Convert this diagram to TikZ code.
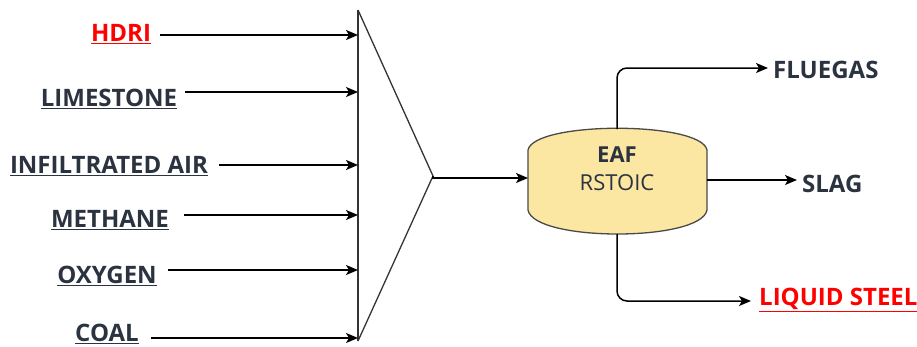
\documentclass[tikz,border=0pt]{standalone}
\usepackage{fontspec}
\setmainfont{Open Sans}
\usetikzlibrary{arrows.meta}
\definecolor{txt}{HTML}{2B3340}
\definecolor{redtxt}{HTML}{FF0000}
\definecolor{eaffill}{HTML}{FBE6A2}
\definecolor{eafline}{HTML}{4A4A4A}
\tikzset{
  lbl/.style={font=\fontsize{24}{28}\selectfont\bfseries, text=txt, inner sep=0pt},
  redlbl/.style={lbl, text=redtxt},
  flow/.style={line width=1.5pt, -{Stealth[length=12pt,width=10pt,inset=3pt]}},
  mixline/.style={line width=1.3pt, color=black!80},
}
\newcommand{\ul}[1]{\underline{#1}}
\begin{document}
\begin{tikzpicture}[x=1pt,y=-1pt]
\useasboundingbox (0,0) rectangle (917,346);
% labels
\node[redlbl] (hdri) at (121,34) {\ul{HDRI}};
\node[lbl] (lime) at (109,99) {\ul{LIMESTONE}};
\node[lbl] (air) at (109,166) {\ul{INFILTRATED AIR}};
\node[lbl] (meth) at (110,220) {\ul{METHANE}};
\node[lbl] (oxy) at (107,276) {\ul{OXYGEN}};
\node[lbl] (coal) at (107,334) {\ul{COAL}};
% mixer
\coordinate (mtop) at (358,10);
\coordinate (mbot) at (358,341);
\coordinate (apex) at (433,176);
\draw[mixline] (mtop) -- (mbot);
\draw[mixline] (mtop) -- (apex) -- (mbot);
% input end points on mixer
\coordinate (e1) at (358,35);
\coordinate (e2) at (358,92);
\coordinate (e3) at (358,165);
\coordinate (e4) at (358,215);
\coordinate (e5) at (358,270);
\coordinate (e6) at (358,338);
\coordinate (s1) at (160,35);
\coordinate (s2) at (185,92);
\coordinate (s3) at (219,165);
\coordinate (s4) at (184,215);
\coordinate (s5) at (168,270);
\coordinate (s6) at (151,338);
\draw[flow] (s1) -- (e1);
\draw[flow] (s2) -- (e2);
\draw[flow] (s3) -- (e3);
\draw[flow] (s4) -- (e4);
\draw[flow] (s5) -- (e5);
\draw[flow] (s6) -- (e6);
% EAF block
\node[minimum width=179pt, minimum height=105pt, inner sep=0pt] (eaf) at (617.5,181.5) {};
\draw[line width=1.3pt, draw=eafline, fill=eaffill]
  (528,150) -- (528,210) .. controls (534,242) and (701,242) .. (707,210)
  -- (707,150) .. controls (701,121) and (534,121) .. cycle;
\node[font=\fontsize{22}{24}\selectfont\bfseries, text=txt, inner sep=0pt] (eaft) at (617,155) {EAF};
\node[font=\fontsize{22}{24}\selectfont, text=txt, inner sep=0pt] (rst) at (617,183) {RSTOIC};
\coordinate (ein) at (528,178);
\draw[flow] (apex) -- (433,178) -- (ein);
% outputs
\node[lbl, anchor=west] (flue) at (773,70) {FLUEGAS};
\node[lbl, anchor=west] (slag) at (802,184) {SLAG};
\node[redlbl, anchor=west] (steel) at (759,300) {\ul{LIQUID STEEL}};
\coordinate (ftop) at (617,129);
\coordinate (fend) at (768,68);
\coordinate (sout) at (707,180);
\coordinate (send) at (797,180);
\coordinate (lbot) at (617,234);
\coordinate (lend) at (751,301);
\draw[flow, rounded corners=10pt] (ftop) |- (fend);
\draw[flow] (sout) -- (send);
\draw[flow, rounded corners=10pt] (lbot) |- (lend);
\end{tikzpicture}
\end{document}
